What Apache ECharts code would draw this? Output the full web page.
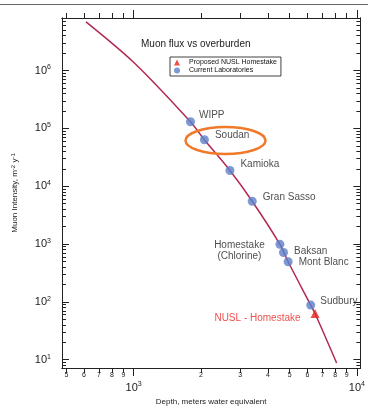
<!DOCTYPE html>
<html>
<head>
<meta charset="utf-8">
<title>Muon flux vs overburden</title>
<script src="https://cdn.jsdelivr.net/npm/echarts@6.0.0/dist/echarts.min.js"></script>
<style>
  html, body { margin: 0; padding: 0; background: #fff; }
  #main { width: 368px; height: 411px; }
</style>
</head>
<body>
<div id="main"></div>
<script>
// depth in m.w.e., intensity in m^-2 y^-1
var curveDepth = [612, 1000, 1797, 2075, 2700, 3397, 4520, 4920, 6210, 6494, 8110];
var curveFlux = [6.95e6, 1.39e6, 1.3e5, 6.35e4, 1.87e4, 5.5e3, 989, 495, 88, 63, 8.8];

var labNames = ['WIPP', 'Soudan', 'Kamioka', 'Gran Sasso', 'Homestake\n(Chlorine)', 'Baksan', 'Mont Blanc', 'Sudbury'];
var labDepth = [1797, 2075, 2700, 3397, 4520, 4690, 4920, 6210];
var labFlux = [1.3e5, 6.35e4, 1.87e4, 5.5e3, 989, 714, 495, 88];

var nuslName = 'NUSL - Homestake';
var nuslDepth = [6494];
var nuslFlux = [63];

// tick values
var xMajorTicks = [1000, 10000];
var xMinorTicks = [500, 600, 700, 800, 900, 2000, 3000, 4000, 5000, 6000, 7000, 8000, 9000];
var yMajorTicks = [10, 100, 1000, 1e4, 1e5, 1e6];
var yMinorTicks = [8, 9,
    20, 30, 40, 50, 60, 70, 80, 90,
    200, 300, 400, 500, 600, 700, 800, 900,
    2000, 3000, 4000, 5000, 6000, 7000, 8000, 9000,
    2e4, 3e4, 4e4, 5e4, 6e4, 7e4, 8e4, 9e4,
    2e5, 3e5, 4e5, 5e5, 6e5, 7e5, 8e5, 9e5,
    2e6, 3e6, 4e6, 5e6, 6e6, 7e6, 8e6];

var xMin = 478, xMax = 10360;
var yMin = 7.2, yMax = 8.1e6;

// label placement for the lab names
var labLabel = {
    'WIPP': { position: 'right', offset: [0, -7] },
    'Soudan': { position: 'right', offset: [2, -5] },
    'Kamioka': { position: 'right', offset: [2, -6] },
    'Gran Sasso': { position: 'right', offset: [2, -4] },
    'Homestake\n(Chlorine)': { position: 'left', offset: [-32, 6], align: 'center' },
    'Baksan': { position: 'right', offset: [2, -1] },
    'Mont Blanc': { position: 'right', offset: [2, 1] },
    'Sudbury': { position: 'right', offset: [1, -4] }
};

var font = 'Liberation Sans, Arial, Helvetica, sans-serif';
var tickColor = '#222';

function pow10Label(v) {
    var e = Math.round(Math.log(v) / Math.LN10);
    return '{b|10}{s|' + e + '}';
}
var powRich = {
    b: { fontSize: 11, fontFamily: font, color: '#222' },
    s: { fontSize: 7, fontFamily: font, color: '#222', verticalAlign: 'top', padding: [0, 0, 6, 0] }
};

function xAxisCfg(pos, ticks, len, showLabel, extra) {
    var a = {
        type: 'log',
        position: pos,
        min: xMin,
        max: xMax,
        axisLine: { show: true, lineStyle: { color: tickColor, width: 1 } },
        axisTick: { show: true, inside: false, length: len, customValues: ticks, lineStyle: { color: tickColor, width: 1 } },
        axisLabel: { show: showLabel, customValues: ticks, showMinLabel: true, showMaxLabel: true },
        splitLine: { show: false },
        minorTick: { show: false },
        minorSplitLine: { show: false }
    };
    for (var k in extra) a[k] = extra[k];
    return a;
}
function yAxisCfg(pos, ticks, len, showLabel, extra) {
    var a = {
        type: 'log',
        position: pos,
        min: yMin,
        max: yMax,
        axisLine: { show: true, lineStyle: { color: tickColor, width: 1 } },
        axisTick: { show: true, inside: true, length: len, customValues: ticks, lineStyle: { color: tickColor, width: 1 } },
        axisLabel: { show: showLabel, customValues: ticks, showMinLabel: true, showMaxLabel: true },
        splitLine: { show: false },
        minorTick: { show: false },
        minorSplitLine: { show: false }
    };
    for (var k in extra) a[k] = extra[k];
    return a;
}

var myChart = echarts.init(document.getElementById('main'));

var curveData = curveDepth.map(function (d, i) { return [d, curveFlux[i]]; });
var labData = labNames.map(function (n, i) {
    var p = labLabel[n];
    return {
        name: n,
        value: [labDepth[i], labFlux[i]],
        label: { position: p.position, offset: p.offset, align: p.align }
    };
});
var nuslData = nuslDepth.map(function (d, i) { return { name: nuslName, value: [d, nuslFlux[i]] }; });

var bottomMinor = xAxisCfg('bottom', xMinorTicks, 5, true, {});
bottomMinor.axisLabel.fontSize = 7;
bottomMinor.axisLabel.margin = 4;
bottomMinor.axisLabel.color = '#222';
bottomMinor.axisLabel.fontFamily = font;
bottomMinor.axisLabel.formatter = function (v) {
    var e = Math.floor(Math.log(v) / Math.LN10 + 1e-9);
    return String(Math.round(v / Math.pow(10, e)));
};

var bottomMajor = xAxisCfg('bottom', xMajorTicks, 8, true, {
    name: 'Depth, meters water equivalent',
    nameLocation: 'middle',
    nameGap: 30,
    nameTextStyle: { fontSize: 8, fontFamily: font, color: '#222' }
});
bottomMajor.axisLabel.margin = 13;
bottomMajor.axisLabel.formatter = pow10Label;
bottomMajor.axisLabel.rich = powRich;

var topMinor = xAxisCfg('top', xMinorTicks, 5, false, {});
var topMajor = xAxisCfg('top', xMajorTicks, 8, false, {});

var leftMajor = yAxisCfg('left', yMajorTicks, 7, true, {
    name: 'Muon Intensity, m{s|-2} y{s|-1}',
    nameLocation: 'middle',
    nameGap: 42,
    nameTextStyle: {
        fontSize: 8, fontFamily: font, color: '#222',
        rich: { s: { fontSize: 6, fontFamily: font, color: '#222', verticalAlign: 'top', padding: [0, 0, 4, 0] } }
    }
});
leftMajor.axisLabel.margin = 11;
leftMajor.axisLabel.formatter = pow10Label;
leftMajor.axisLabel.rich = powRich;
var leftMinor = yAxisCfg('left', yMinorTicks, 4, false, {});
var rightMajor = yAxisCfg('right', yMajorTicks, 7, false, {});
var rightMinor = yAxisCfg('right', yMinorTicks, 4, false, {});

var option = {
    backgroundColor: '#FFFFFF',
    animation: false,
    textStyle: { fontFamily: font },
    title: {
        text: 'Muon flux vs overburden',
        left: 136,
        top: 34,
        textStyle: { fontSize: 10, fontWeight: 'normal', color: '#222', fontFamily: font }
    },
    legend: {
        orient: 'vertical',
        left: 170,
        top: 57,
        padding: [2, 4, 2, 4],
        itemGap: 1,
        itemWidth: 6,
        itemHeight: 6,
        borderColor: '#111',
        borderWidth: 0.8,
        borderRadius: 0,
        selectedMode: false,
        textStyle: { fontSize: 7, color: '#111', fontFamily: font, padding: [0, 0, 0, 4] },
        data: [
            { name: 'Proposed NUSL Homestake', icon: 'triangle' },
            { name: 'Current Laboratories', icon: 'circle' }
        ]
    },
    grid: { left: 62, right: 6, top: 18, bottom: 36, containLabel: false },
    xAxis: [bottomMinor, bottomMajor, topMinor, topMajor],
    yAxis: [leftMajor, leftMinor, rightMajor, rightMinor],
    graphic: [
        { type: 'line', shape: { x1: 0, y1: 4.5, x2: 368, y2: 4.5 }, style: { stroke: '#666', lineWidth: 1 } },
        { type: 'ellipse', shape: { cx: 225.5, cy: 140.5, rx: 40, ry: 13.5 }, style: { fill: 'none', stroke: '#f07a2a', lineWidth: 2.5 }, z: 100 }
    ],
    series: [{
        name: 'curve',
        type: 'line',
        xAxisIndex: 0,
        yAxisIndex: 0,
        data: curveData,
        smooth: 0.3,
        symbol: 'none',
        lineStyle: { color: '#b3294f', width: 1.5 },
        z: 2
    }, {
        name: 'Current Laboratories',
        type: 'scatter',
        xAxisIndex: 0,
        yAxisIndex: 0,
        data: labData,
        symbol: 'circle',
        symbolSize: 9,
        itemStyle: { color: '#5b80c8' },
        label: {
            show: true,
            formatter: '{b}',
            fontSize: 10,
            lineHeight: 11,
            color: '#222',
            fontFamily: font,
            distance: 4
        },
        z: 3
    }, {
        name: 'Proposed NUSL Homestake',
        type: 'scatter',
        xAxisIndex: 0,
        yAxisIndex: 0,
        data: nuslData,
        symbol: 'triangle',
        symbolSize: 9,
        itemStyle: { color: '#e8241f' },
        label: {
            show: true,
            position: 'left',
            formatter: '{b}',
            fontSize: 10,
            color: '#e8241f',
            fontFamily: font,
            distance: 10,
            offset: [0, 5]
        },
        z: 3
    }]
};

myChart.setOption(option, true);
</script>
</body>
</html>
